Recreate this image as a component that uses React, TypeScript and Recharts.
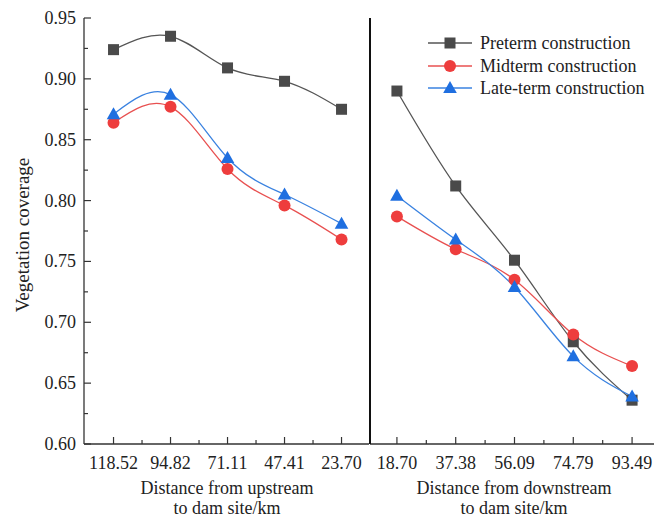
import { LineChart, Line, XAxis, YAxis } from "recharts";

const upstreamLabels = ["118.52", "94.82", "71.11", "47.41", "23.70"];
const downstreamLabels = ["18.70", "37.38", "56.09", "74.79", "93.49"];

const upPreterm = [0.924, 0.935, 0.909, 0.898, 0.875];
const upMidterm = [0.864, 0.877, 0.826, 0.796, 0.768];
const upLate = [0.871, 0.887, 0.835, 0.805, 0.781];

const downPreterm = [0.89, 0.812, 0.751, 0.684, 0.636];
const downMidterm = [0.787, 0.76, 0.735, 0.69, 0.664];
const downLate = [0.804, 0.768, 0.729, 0.672, 0.639];

const yTicks = [0.6, 0.625, 0.65, 0.675, 0.7, 0.725, 0.75, 0.775, 0.8, 0.825, 0.85, 0.875, 0.9, 0.925, 0.95];
const xTicks = [0, 0.5, 1, 1.5, 2, 2.5, 3, 3.5, 4];

const FONT = "'Liberation Serif', 'Times New Roman', serif";
const GRAY = "#4a4a4a";
const RED = "#ee3d3d";
const BLUE = "#1f6fe0";

const makeRows = (labels: string[], pre: number[], mid: number[], late: number[]) =>
  labels.map((label, i) => ({ x: i, label, pre: pre[i], mid: mid[i], late: late[i] }));

const upRows = makeRows(upstreamLabels, upPreterm, upMidterm, upLate);
const downRows = makeRows(downstreamLabels, downPreterm, downMidterm, downLate);

const Square = (p: any) =>
  p.cx == null ? null : <rect x={p.cx - 5.5} y={p.cy - 5.5} width={11} height={11} fill={GRAY} />;
const Circle = (p: any) =>
  p.cx == null ? null : <circle cx={p.cx} cy={p.cy} r={6} fill={RED} />;
const Triangle = (p: any) =>
  p.cx == null ? null : (
    <polygon
      points={`${p.cx},${p.cy - 7} ${p.cx - 6.8},${p.cy + 5} ${p.cx + 6.8},${p.cy + 5}`}
      fill={BLUE}
    />
  );

const seriesDefs = [
  { key: "pre", name: "Preterm construction", stroke: "#555", Marker: Square },
  { key: "mid", name: "Midterm construction", stroke: "#e85050", Marker: Circle },
  { key: "late", name: "Late-term construction", stroke: "#3a82e0", Marker: Triangle },
];

const YTick = (props: any) => {
  const { x, y, payload, index } = props;
  const major = index % 2 === 0;
  return (
    <g>
      <line x1={x} x2={x + (major ? 7 : 4)} y1={y} y2={y} stroke="#333" strokeWidth={1.2} />
      {major && (
        <text x={x - 8} y={y} dy={6} textAnchor="end" fontFamily={FONT} fontSize={18} fill="#222">
          {payload.value.toFixed(2)}
        </text>
      )}
    </g>
  );
};

const makeXTick = (labels: string[]) => (props: any) => {
  const { x, y, payload } = props;
  const major = Number.isInteger(payload.value);
  return (
    <g>
      <line x1={x} x2={x} y1={y} y2={y - (major ? 7 : 4)} stroke="#333" strokeWidth={1.2} />
      {major && (
        <text x={x} y={y} dy={25} textAnchor="middle" fontFamily={FONT} fontSize={18} fill="#222">
          {labels[payload.value]}
        </text>
      )}
    </g>
  );
};

const series = (rows: any[]) =>
  seriesDefs.map((s) => (
    <Line
      key={s.key}
      data={rows}
      type="natural"
      dataKey={s.key}
      name={s.name}
      stroke={s.stroke}
      strokeWidth={1.3}
      dot={<s.Marker />}
      activeDot={false}
      isAnimationActive={false}
    />
  ));

const PanelLegend = () => (
  <div style={{ position: "absolute", left: 428, top: 32 }}>
    {seriesDefs.map((s) => (
      <div key={s.key} style={{ display: "flex", alignItems: "center", height: 22.5 }}>
        <svg width={52} height={22}>
          <line x1={0} x2={44} y1={11} y2={11} stroke={s.stroke} strokeWidth={1.3} />
          <s.Marker cx={22} cy={11} />
        </svg>
        <span style={{ fontFamily: FONT, fontSize: 18, color: "#222", lineHeight: "22px", whiteSpace: "nowrap" }}>
          {s.name}
        </span>
      </div>
    ))}
  </div>
);

export default function App() {
  return (
    <div style={{ position: "absolute", left: 0, top: 0, width: 667, height: 519, background: "#fff" }}>
      <div style={{ position: "absolute", left: 0, top: 0 }}>
        <LineChart width={370} height={519} data={upRows} margin={{ top: 18, right: 1, left: 0, bottom: 0 }}>
          <XAxis
            dataKey="x"
            type="number"
            domain={[-0.518, 4.482]}
            ticks={xTicks}
            interval={0}
            height={75}
            tickSize={0}
            tickMargin={0}
            tickLine={false}
            axisLine={{ stroke: "#333", strokeWidth: 1.3 }}
            tick={makeXTick(upstreamLabels)}
          />
          <YAxis
            type="number"
            domain={[0.6, 0.95]}
            ticks={yTicks}
            interval={0}
            width={84}
            tickSize={0}
            tickMargin={0}
            tickLine={false}
            axisLine={{ stroke: "#333", strokeWidth: 1.3 }}
            tick={<YTick />}
          />
          {series(upRows)}
        </LineChart>
      </div>
      <div style={{ position: "absolute", left: 359, top: 0 }}>
        <LineChart width={308} height={519} data={downRows} margin={{ top: 18, right: 13, left: 10, bottom: 0 }}>
          <XAxis
            dataKey="x"
            type="number"
            domain={[-0.458, 4.373]}
            ticks={xTicks}
            interval={0}
            height={75}
            tickSize={0}
            tickMargin={0}
            tickLine={false}
            axisLine={{ stroke: "#333", strokeWidth: 1.3 }}
            tick={makeXTick(downstreamLabels)}
          />
          <YAxis
            type="number"
            domain={[0.6, 0.95]}
            ticks={yTicks}
            width={1}
            tick={false}
            tickLine={false}
            axisLine={{ stroke: "#111", strokeWidth: 2 }}
          />
          {series(downRows)}
        </LineChart>
      </div>
      <PanelLegend />
      <div
        style={{
          position: "absolute",
          left: 23,
          top: 235,
          transform: "translate(-50%, -50%) rotate(-90deg)",
          whiteSpace: "nowrap",
          fontFamily: FONT,
          fontSize: 19,
          color: "#222",
        }}
      >
        Vegetation coverage
      </div>
      <div style={{ position: "absolute", left: 227, top: 478, transform: "translateX(-50%)", textAlign: "center", whiteSpace: "nowrap", fontFamily: FONT, fontSize: 18, lineHeight: "20px", color: "#222" }}>
        Distance from upstream
        <br />
        to dam site/km
      </div>
      <div style={{ position: "absolute", left: 514, top: 478, transform: "translateX(-50%)", textAlign: "center", whiteSpace: "nowrap", fontFamily: FONT, fontSize: 18, lineHeight: "20px", color: "#222" }}>
        Distance from downstream
        <br />
        to dam site/km
      </div>
    </div>
  );
}
